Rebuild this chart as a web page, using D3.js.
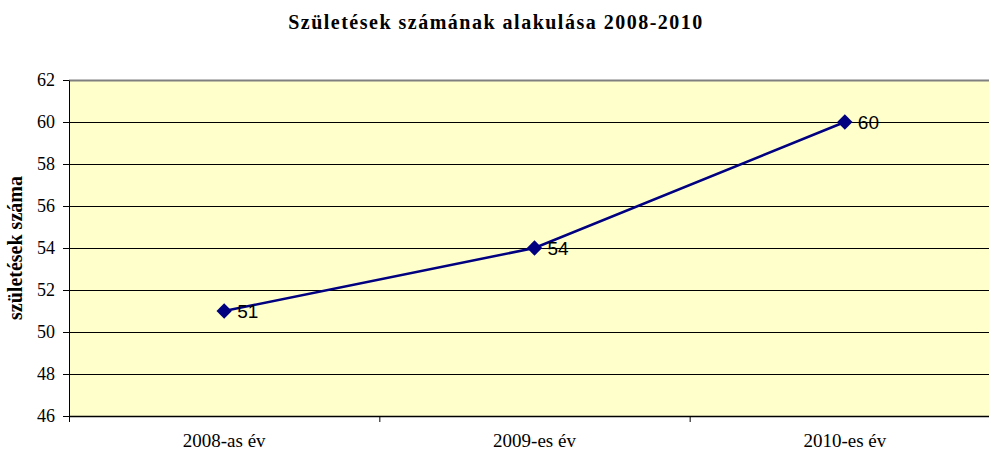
<!DOCTYPE html>
<html>
<head>
<meta charset="utf-8">
<script src="https://cdn.jsdelivr.net/npm/d3@7"></script>
<style>
  body { margin: 0; background: #fff; }
  svg { display: block; }
  .axis text { font-family: "Liberation Serif", "Times New Roman", serif; }
</style>
</head>
<body>
<svg id="chart" width="989" height="452"></svg>
<script>
const categories = ['2008-as év', '2009-es év', '2010-es év']
const births = [51, 54, 60]
const yTicks = [46, 48, 50, 52, 54, 56, 58, 60, 62]
const title = 'Születések számának alakulása 2008-2010'
const yLabel = 'születések száma'

const marginLeft = 69
const marginTop = 80
const plotWidth = 931
const plotHeight = 336

const serif = '"Liberation Serif", "Times New Roman", serif'
const sans = '"Liberation Sans", Arial, sans-serif'

const svg = d3.select('#chart')

const x = d3.scaleBand().domain(categories).range([0, plotWidth])
const y = d3.scaleLinear().domain([46, 62]).range([plotHeight, 0])

const g = svg.append('g').attr('transform', `translate(${marginLeft} ${marginTop})`)

g.append('rect')
  .attr('width', plotWidth)
  .attr('height', plotHeight)
  .attr('fill', '#ffffcc')

// gridlines
g.selectAll('.grid')
  .data(yTicks.slice(1, -1))
  .join('line')
  .attr('x1', 0)
  .attr('x2', plotWidth)
  .attr('y1', (d) => Math.round(y(d)) + 0.5)
  .attr('y2', (d) => Math.round(y(d)) + 0.5)
  .attr('stroke', '#000')
  .attr('stroke-width', 1)

g.append('line')
  .attr('x1', 0)
  .attr('x2', plotWidth)
  .attr('y1', 0.5)
  .attr('y2', 0.5)
  .attr('stroke', '#808080')
  .attr('stroke-width', 2)

const yAxis = g.append('g')
  .classed('axis', true)
  .call(d3.axisLeft(y).tickValues(yTicks).tickSize(6).tickPadding(8).tickSizeOuter(0))
  .attr('font-family', serif)
  .attr('font-size', 18)
yAxis.select('.domain').attr('stroke', '#000')
yAxis.selectAll('text')
  .style('font-family', serif)
  .style('font-size', '18px')
  .attr('fill', '#000')

const xAxis = g.append('g')
  .classed('axis', true)
  .attr('transform', `translate(0 ${plotHeight})`)
  .call(d3.axisBottom(x).tickSize(0).tickPadding(18))
  .attr('font-family', serif)
  .attr('font-size', 19)
xAxis.select('.domain').attr('stroke', '#000').attr('stroke-width', 1.5)
xAxis.selectAll('text')
  .style('font-family', serif)
  .style('font-size', '19px')
  .attr('fill', '#000')

// category separators
g.selectAll('.xtick')
  .data(d3.range(categories.length + 1))
  .join('line')
  .attr('x1', (i) => i * x.step() + 0.5)
  .attr('x2', (i) => i * x.step() + 0.5)
  .attr('y1', plotHeight)
  .attr('y2', plotHeight + 6)
  .attr('stroke', '#000')

const cx = (d, i) => x(categories[i]) + x.bandwidth() / 2

const line = d3.line()
  .x((d, i) => cx(d, i))
  .y((d) => y(d))

g.append('path')
  .datum(births)
  .attr('fill', 'none')
  .attr('stroke', '#000080')
  .attr('stroke-width', 2.5)
  .attr('d', line)

g.selectAll('.marker')
  .data(births)
  .join('path')
  .attr('transform', (d, i) => `translate(${cx(d, i)} ${y(d)})`)
  .attr('d', d3.symbol(d3.symbolDiamond2, 150))
  .attr('fill', '#000080')

g.selectAll('.label')
  .data(births)
  .join('text')
  .attr('x', (d, i) => cx(d, i) + 13)
  .attr('y', (d) => y(d) + 7)
  .attr('font-family', sans)
  .attr('font-size', 19)
  .attr('fill', '#000')
  .text((d) => d)

svg.append('text')
  .attr('x', 496)
  .attr('y', 29)
  .attr('text-anchor', 'middle')
  .attr('font-family', serif)
  .attr('font-weight', 'bold')
  .attr('font-size', 20)
  .attr('letter-spacing', 1.5)
  .text(title)

svg.append('text')
  .attr('transform', `translate(22 ${marginTop + plotHeight / 2}) rotate(-90)`)
  .attr('text-anchor', 'middle')
  .attr('font-family', serif)
  .attr('font-weight', 'bold')
  .attr('font-size', 20)
  .text(yLabel)
</script>
</body>
</html>
